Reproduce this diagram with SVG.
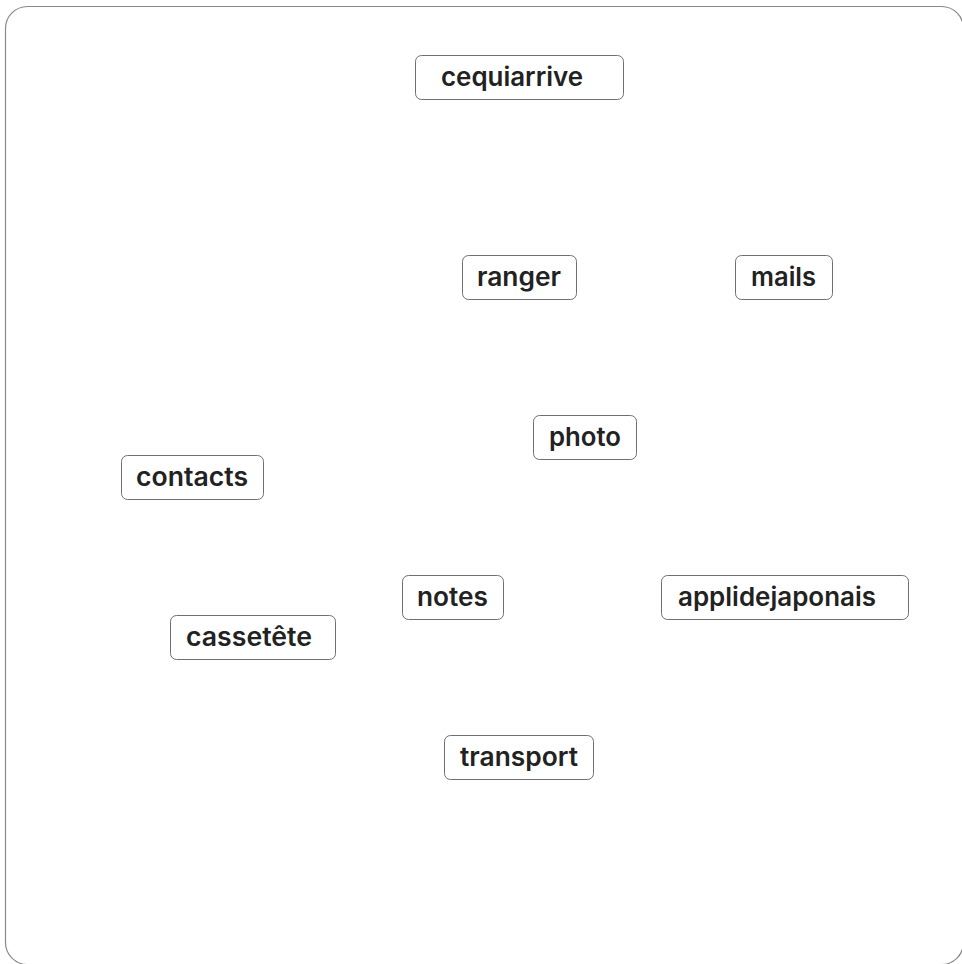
<svg xmlns="http://www.w3.org/2000/svg" width="962" height="964" viewBox="0 0 962 964">
<style>
.frame{fill:#fff;stroke:#8a8a8a;stroke-width:1.2}
.box{fill:#fff;stroke:#6f6f6f;stroke-width:1}
.lbl{font-family:Inter,"Liberation Sans",sans-serif;font-weight:600;font-size:26px;fill:#222}
</style>
<rect class="frame" x="5.5" y="6.5" width="958" height="958" rx="22"/>
<g id="connectors"></g>
<g id="cequiarrive"><rect class="box" x="415.5" y="55.5" width="208" height="44" rx="6"/><text class="lbl" x="441" y="86" textLength="142" lengthAdjust="spacingAndGlyphs">cequiarrive</text></g>
<g id="ranger"><rect class="box" x="462.5" y="255.5" width="114" height="44" rx="6"/><text class="lbl" x="477" y="286" textLength="84" lengthAdjust="spacingAndGlyphs">ranger</text></g>
<g id="mails"><rect class="box" x="735.5" y="255.5" width="97" height="44" rx="6"/><text class="lbl" x="751" y="286" textLength="65" lengthAdjust="spacingAndGlyphs">mails</text></g>
<g id="photo"><rect class="box" x="533.5" y="415.5" width="103" height="44" rx="6"/><text class="lbl" x="549" y="446" textLength="72" lengthAdjust="spacingAndGlyphs">photo</text></g>
<g id="contacts"><rect class="box" x="121.5" y="455.5" width="142" height="44" rx="6"/><text class="lbl" x="136" y="486" textLength="112" lengthAdjust="spacingAndGlyphs">contacts</text></g>
<g id="notes"><rect class="box" x="402.5" y="575.5" width="101" height="44" rx="6"/><text class="lbl" x="417" y="606" textLength="71" lengthAdjust="spacingAndGlyphs">notes</text></g>
<g id="applidejaponais"><rect class="box" x="661.5" y="575.5" width="247" height="44" rx="6"/><text class="lbl" x="678" y="606" textLength="198" lengthAdjust="spacingAndGlyphs">applidejaponais</text></g>
<g id="cassetete"><rect class="box" x="170.5" y="615.5" width="165" height="44" rx="6"/><text class="lbl" x="186" y="646" textLength="126" lengthAdjust="spacingAndGlyphs">cassetête</text></g>
<g id="transport"><rect class="box" x="444.5" y="735.5" width="149" height="44" rx="6"/><text class="lbl" x="460" y="766" textLength="118" lengthAdjust="spacingAndGlyphs">transport</text></g>
</svg>
